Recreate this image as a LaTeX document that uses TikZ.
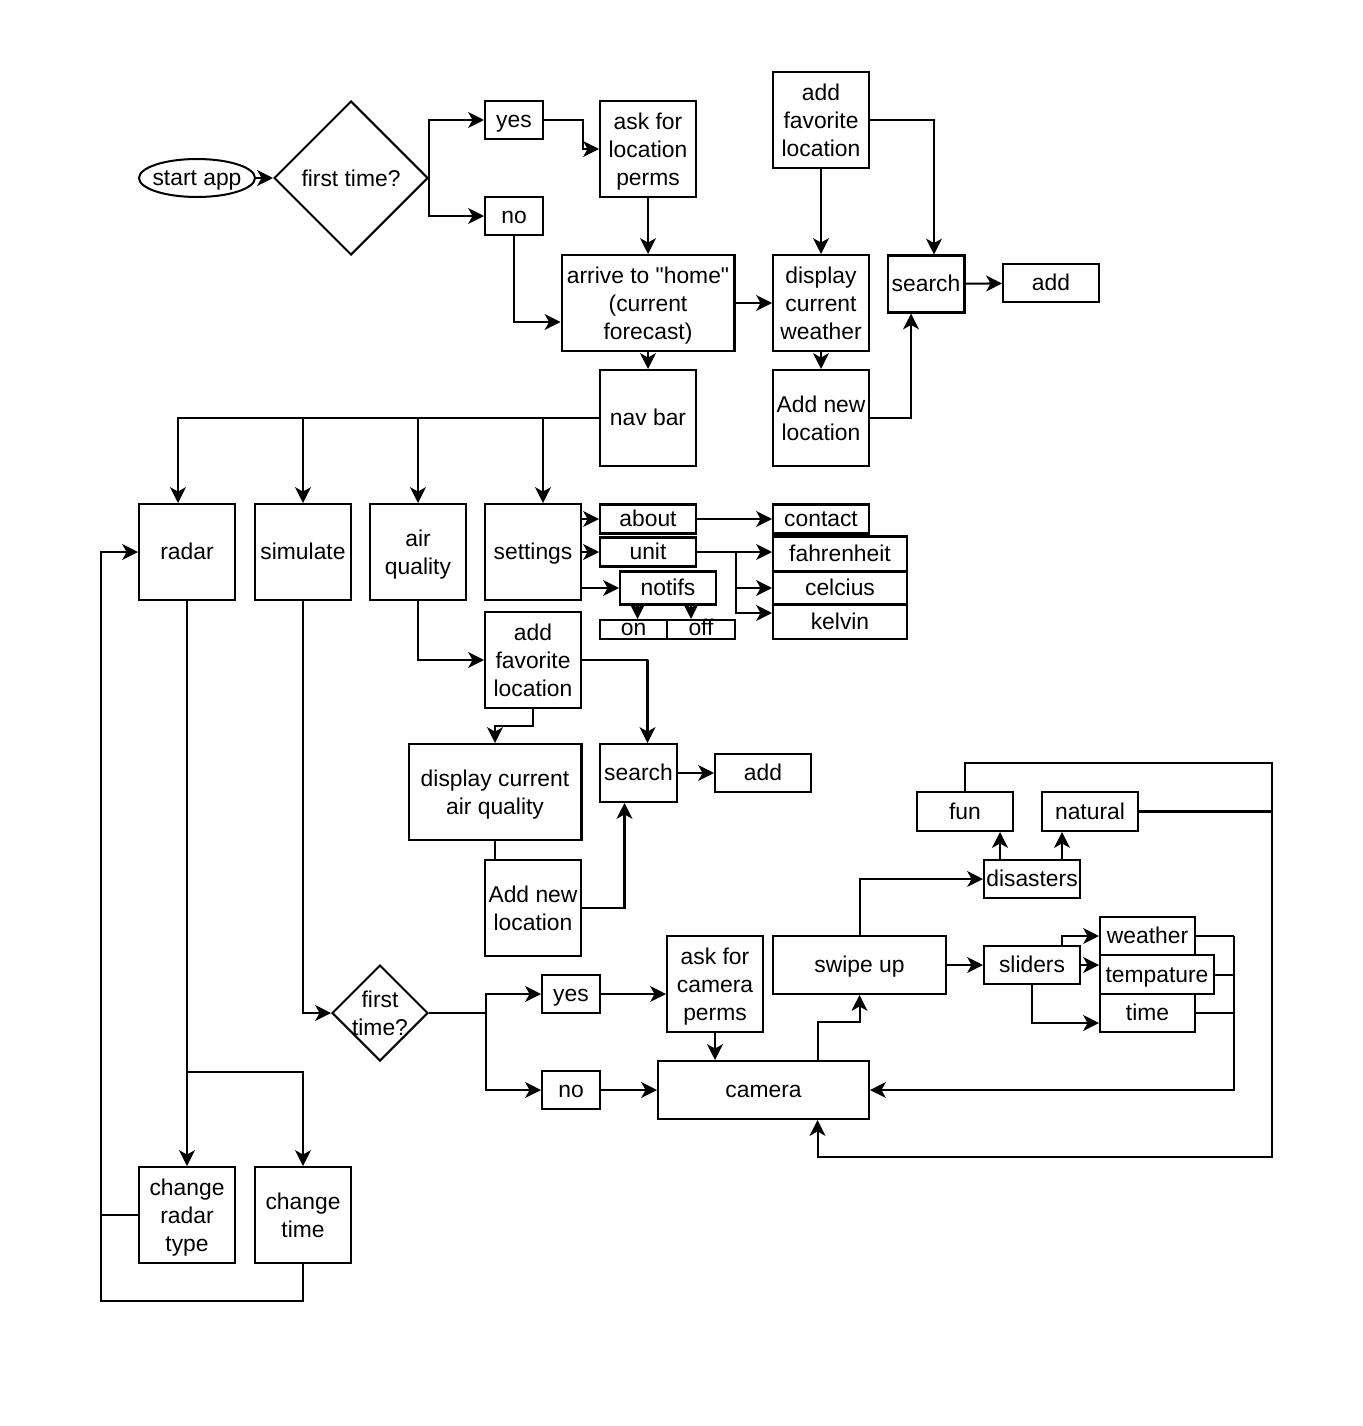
\documentclass[tikz,border=0pt]{standalone}
\usepackage{fontspec}
\setmainfont{Liberation Sans}[Ligatures=TeXOff]
\usetikzlibrary{arrows.meta,shapes.geometric,calc}

\begin{document}
\begin{tikzpicture}[
    x=0.02cm, y=-0.02cm,
    font=\fontsize{13pt}{16pt}\selectfont,
    box/.style={rectangle, draw, fill=white, line width=1.15pt, align=center, inner sep=0pt, minimum width=1.92cm, minimum height=1.92cm},
    block/.style={box, text height=12.3pt, text depth=3.3pt},
    stack/.style={box, text depth=0pt},
    small/.style={block, minimum width=1.16cm, minimum height=0.76cm},
    tiny/.style={box, minimum height=0.38cm, text height=6.75pt, text depth=0pt},
    decision/.style={diamond, draw, fill=white, line width=1.15pt, align=center, inner sep=0pt, aspect=1},
    line/.style={draw, line width=1.15pt, -{Stealth[length=9pt,width=9pt,inset=2.5pt]}},
    link/.style={draw, line width=1.15pt}
]
    \useasboundingbox (0,0) rectangle (1362,1426);

    % top row
    \node [block, draw=none, fill=none, minimum width=2.32cm, minimum height=0.76cm] (start) at (197,178) {start app};
    \draw [link] (start.center) ellipse (1.16cm and 0.38cm);
    \node [decision, minimum width=3.08cm, minimum height=3.08cm] (first) at (351,178) {first time?};
    \node [small] (yes) at (514,120) {yes};
    \node [small] (no) at (514,216) {no};
    \node [stack] (askloc) at (648,149) {ask for\\location\\perms};
    \node [stack] (favtop) at (821,120) {add\\favorite\\location};
    \node [stack, minimum width=3.46cm] (home) at (648,303) {arrive to "home"\\(current\\forecast)};
    \node [stack] (current) at (821,303) {display\\current\\weather};
    \node [block, minimum width=1.54cm, minimum height=1.14cm] (searchtop) at (926,284) {search};
    \node [block, minimum height=0.76cm] (addtop) at (1051,283) {add};
    \node [block] (navbar) at (648,418) {nav bar};
    \node [stack] (newloc) at (821,418) {Add new\\location};

    % nav bar targets
    \node [block] (radar) at (187,552) {radar};
    \node [block] (simulate) at (303,552) {simulate};
    \node [stack] (air) at (418,552) {air\\quality};
    \node [block] (settings) at (533,552) {settings};

    % settings
    \node [block, minimum height=0.58cm] (about) at (648,519) {about};
    \node [block, minimum height=0.58cm] (unit) at (648,552) {unit};
    \node [block, minimum height=0.66cm] (notifs) at (668,588) {notifs};
    \node [tiny, minimum width=1.34cm] (on) at (633.5,629.5) {on};
    \node [tiny, minimum width=1.36cm] (off) at (701,629.5) {off};
    \node [block, minimum height=0.58cm] (contact) at (821,519) {contact};
    \node [block, minimum width=2.68cm, minimum height=0.70cm] (fahr) at (840,554) {fahrenheit};
    \node [block, minimum width=2.68cm, minimum height=0.66cm] (celc) at (840,588) {celcius};
    \node [block, minimum width=2.68cm, minimum height=0.68cm] (kelv) at (840,622) {kelvin};

    % air quality
    \node [stack] (favmid) at (533,660) {add\\favorite\\location};
    \node [stack, minimum width=3.46cm] (dispaq) at (495,792) {display current\\air quality};
    \node [block, minimum width=1.54cm, minimum height=1.16cm] (searchmid) at (638.5,773) {search};
    \node [block, minimum height=0.76cm] (addmid) at (763,773) {add};
    \node [stack] (newlocmid) at (533,908) {Add new\\location};

    % simulate
    \node [decision, minimum width=1.92cm, minimum height=1.92cm, inner sep=-1pt] (firstcam) at (380,1013) {first\\time?};
    \node [small] (yescam) at (571,994) {yes};
    \node [small] (nocam) at (571,1090) {no};
    \node [stack] (askcam) at (715,984) {ask for\\camera\\perms};
    \node [block, minimum width=4.22cm, minimum height=1.16cm] (camera) at (763.5,1090) {camera};
    \node [block, minimum width=3.46cm, minimum height=1.16cm] (swipe) at (859.5,965) {swipe up};
    \node [block, minimum height=0.76cm] (sliders) at (1032,965) {sliders};
    \node [block, minimum width=1.90cm, minimum height=0.76cm] (slweather) at (1147.5,936) {weather};
    \node [block, minimum width=2.28cm, minimum height=0.78cm] (sltemp) at (1157,974.5) {tempature};
    \node [block, minimum width=1.90cm, minimum height=0.76cm] (sltime) at (1147.5,1013) {time};
    \node [block, minimum height=0.76cm] (disasters) at (1032,879) {disasters};
    \node [block, minimum height=0.78cm] (fun) at (965,811.5) {fun};
    \node [block, minimum height=0.78cm] (natural) at (1090,811.5) {natural};

    % radar
    \node [stack] (radartype) at (187,1215) {change\\radar\\type};
    \node [stack] (radartime) at (303,1215) {change\\time};

    \coordinate (camright) at (1234,1090);
    \coordinate (loopright) at (1272,1157);
    \coordinate (loopleft) at (101,1301);
    \coordinate (settop) at ($(settings.north)+(10,0)$);
    \coordinate (ontop) at ($(on.north)+(4,0)$);
    \coordinate (offtop) at ($(off.north)+(-10,0)$);

    % start
    \draw [line] (start) -- (first);
    \draw [line] (first.east) |- (yes);
    \draw [line] (first.east) |- (no);
    \draw [line] (yes.east) -- ++(39,0) |- (askloc);
    \draw [line] (no.south) |- ($(home.west)+(0,19)$);
    \draw [line] (askloc) -- (home);
    \draw [line] (home) -- (current);
    \draw [line] (favtop) -- (current);
    \draw [line] (favtop.east) -- ++(65,0) -| ($(searchtop.north)+(8,0)$);
    \draw [line] (current) -- (newloc);
    \draw [line] (newloc.east) -| ($(searchtop.south)+(-15,0)$);
    \draw [line] (searchtop) -- (addtop);
    \draw [line] (home) -- (navbar);

    % nav bar
    \draw [line] (navbar.west) -| ($(radar.north)+(-9,0)$);
    \draw [line] (simulate |- navbar.west) -- (simulate);
    \draw [line] (air |- navbar.west) -- (air);
    \draw [line] (settop |- navbar.west) -- (settop);

    % settings
    \draw [line] (settings.east |- about) -- (about);
    \draw [line] (settings.east |- unit) -- (unit);
    \draw [line] (settings.east |- notifs) -- (notifs);
    \draw [line] (ontop |- notifs.south) -- (ontop);
    \draw [line] (offtop |- notifs.south) -- (offtop);
    \draw [line] (about) -- (contact);
    \draw [line] (unit.east) -- (fahr.west |- unit.east);
    \draw [line] (unit.east) -- ++(39,0) |- (celc);
    \draw [line] (unit.east) -- ++(39,0) |- ($(kelv.west)+(0,-9)$);

    % air quality
    \draw [line] (air) |- (favmid);
    \draw [line] (favmid.south) -- ++(0,17) -| (dispaq);
    \draw [line] (favmid.east) -- ++(66,0) -| ($(searchmid.north)+(9,0)$);
    \draw [link] (dispaq.south) -- (dispaq.south |- newlocmid.north);
    \draw [line] (newlocmid.east) -| ($(searchmid.south)+(-14,0)$);
    \draw [line] (searchmid) -- (addmid);

    % simulate
    \draw [line] (simulate) |- (firstcam);
    \draw [line] (firstcam.east) -- ++(57,0) |- (yescam);
    \draw [line] (firstcam.east) -- ++(57,0) |- (nocam);
    \draw [line] (yescam.east) -- (askcam.west |- yescam.east);
    \draw [line] (nocam) -- (camera);
    \draw [line] (askcam.south) -- (askcam.south |- camera.north);
    \draw [line] ($(camera.north)+(54,0)$) -- ++(0,-38) -| (swipe);
    \draw [line] (swipe) -- (sliders);
    \draw [line] (swipe) |- (disasters);
    \draw [line] ($(disasters.north)+(-32,0)$) -- ($(fun.south)+(35,0)$);
    \draw [line] ($(disasters.north)+(30,0)$) -- ($(natural.south)+(-28,0)$);
    \draw [line] ($(sliders.north)+(30,0)$) |- (slweather);
    \draw [line] (sliders.east) -- (sltemp.west |- sliders.east);
    \draw [line] (sliders) |- ($(sltime.west)+(0,10)$);
    \draw [link] (slweather.east) -- (slweather.east -| camright);
    \draw [link] (sltemp.east) -- (sltemp.east -| camright);
    \draw [link] (sltime.east) -- (sltime.east -| camright);
    \draw [line] (slweather.east -| camright) -- (camright) -- (camera);
    \draw [line] (fun.north) -- ++(0,-28) -| (loopright) -| ($(camera.south)+(54,0)$);
    \draw [link] (natural.east) -- (natural.east -| loopright);

    % radar
    \draw [line] (radar) -- (radartype);
    \draw [line] (radar.south) -- ++(0,471) -| (radartime);
    \draw [link] (radartype.west) -- (radartype.west -| loopleft);
    \draw [line] (radartime) |- (loopleft) |- (radar);
\end{tikzpicture}
\end{document}
